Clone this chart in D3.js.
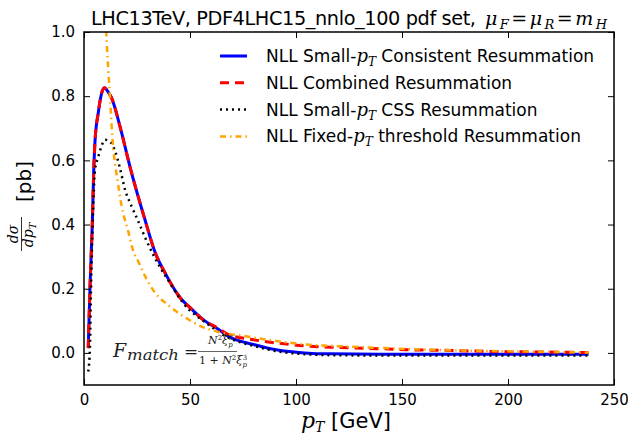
<!DOCTYPE html>
<html>
<head>
<meta charset="utf-8">
<script src="https://cdn.jsdelivr.net/npm/d3@7"></script>
<style>
  body { margin: 0; background: #fff; }
  svg { display: block; }
</style>
</head>
<body>
<svg width="628" height="438"></svg>
<script>
// values
const consistentPt = [2, 2.8, 3.9, 4.6, 5.2, 6.7, 8.3, 9.6, 11.5, 13, 17, 21.7, 28.8, 33.5, 39, 45, 51, 56.5, 63, 68, 80, 92, 104, 116, 140, 180, 238];
const consistentXs = [0.015, 0.2, 0.4, 0.57, 0.66, 0.747, 0.809, 0.826, 0.812, 0.795, 0.705, 0.58, 0.414, 0.314, 0.24, 0.175, 0.135, 0.102, 0.075, 0.052, 0.026, 0.008, 0.0, -0.003, -0.004, -0.004, -0.004];

const combinedPt = [2, 2.8, 3.9, 4.6, 5.2, 6.7, 8.3, 9.6, 11.5, 13, 17, 21.7, 28.8, 33.5, 39, 45, 51, 56.5, 63, 68, 80, 92, 104, 116, 128, 140, 152, 170, 196, 215, 238];
const combinedXs = [0.015, 0.2, 0.4, 0.57, 0.66, 0.747, 0.809, 0.826, 0.812, 0.795, 0.705, 0.58, 0.414, 0.314, 0.24, 0.175, 0.135, 0.102, 0.078, 0.058, 0.041, 0.03, 0.022, 0.018, 0.015, 0.013, 0.010, 0.008, 0.004, 0.003, 0.001];

const cssPt = [2, 2.8, 3.3, 4.1, 5.2, 6.7, 8.3, 9.9, 12.7, 14.6, 17, 19.3, 22.5, 25.6, 28.8, 32.7, 40.6, 46.8, 57.9, 68, 80, 92, 104, 116, 140, 180, 238];
const cssXs = [-0.058, 0.015, 0.2, 0.4, 0.57, 0.61, 0.645, 0.664, 0.655, 0.63, 0.575, 0.51, 0.456, 0.41, 0.36, 0.305, 0.217, 0.155, 0.092, 0.048, 0.022, 0.004, -0.004, -0.007, -0.008, -0.008, -0.008];

const thresholdPt = [9.8, 10.5, 11.5, 12.6, 13.2, 14.6, 15.4, 17.8, 20.9, 23.3, 25.6, 28, 32.7, 40.6, 48.4, 55.5, 62, 77, 93, 105, 120, 141, 180, 210, 238];
const thresholdXs = [1.15, 1.0, 0.88, 0.757, 0.69, 0.59, 0.555, 0.456, 0.378, 0.316, 0.285, 0.25, 0.195, 0.144, 0.108, 0.082, 0.068, 0.051, 0.035, 0.026, 0.021, 0.015, 0.007, 0.004, 0.001];

const xTicks = [0, 50, 100, 150, 200, 250];
const yTicks = [0.0, 0.2, 0.4, 0.6, 0.8, 1.0];

const series = [
  { name: 'Small-', tail: ' Consistent Resummation', pt: consistentPt, xs: consistentXs, color: '#0000ff', width: 3, dash: null },
  { name: 'Combined Resummation', tail: null, pt: combinedPt, xs: combinedXs, color: '#ff0000', width: 3, dash: '9,6' },
  { name: 'Small-', tail: ' CSS Resummation', pt: cssPt, xs: cssXs, color: '#000000', width: 2.5, dash: '2,4' },
  { name: 'Fixed-', tail: ' threshold Resummation', pt: thresholdPt, xs: thresholdXs, color: '#ffa500', width: 2.5, dash: '6,4,1.5,4' },
];

const margin = { top: 32, right: 14, bottom: 53, left: 84 };
const width = 628, height = 438;
const svg = d3.select('svg');
const sans = 'DejaVu Sans, sans-serif';
const serif = 'DejaVu Serif, serif';

const x = d3.scaleLinear([0, 250], [margin.left, width - margin.right]);
const y = d3.scaleLinear([-0.1, 1.0], [height - margin.bottom, margin.top]);

svg.append('clipPath').attr('id', 'plot-clip')
  .append('rect')
    .attr('x', x(0)).attr('y', y(1.0))
    .attr('width', x(250) - x(0)).attr('height', y(-0.1) - y(1.0));

const line = d3.line()
  .x((d) => x(d[0]))
  .y((d) => y(d[1]))
  .curve(d3.curveMonotoneX);

const plot = svg.append('g').attr('clip-path', 'url(#plot-clip)');
series.forEach((s) => {
  plot.append('path')
    .datum(s.pt.map((p, i) => [p, s.xs[i]]))
    .attr('d', line)
    .attr('fill', 'none')
    .attr('stroke', s.color)
    .attr('stroke-width', s.width)
    .attr('stroke-dasharray', s.dash);
});

// axes, ticks pointing inward on all four sides
const tickStyle = (g) => {
  g.select('.domain').remove();
  g.selectAll('.tick line').attr('stroke', '#000').attr('stroke-width', 1);
  g.selectAll('.tick text')
    .style('font-family', sans)
    .style('font-size', '15px')
    .attr('fill', '#000');
};

svg.append('g')
  .attr('transform', `translate(0, ${y(-0.1)})`)
  .call(d3.axisBottom(x).tickValues(xTicks).tickSizeInner(-6).tickPadding(9).tickFormat(d3.format('d')))
  .call(tickStyle);
svg.append('g')
  .attr('transform', `translate(0, ${y(1.0)})`)
  .call(d3.axisTop(x).tickValues(xTicks).tickSizeInner(-6).tickFormat(''))
  .call(tickStyle);
svg.append('g')
  .attr('transform', `translate(${x(0)}, 0)`)
  .call(d3.axisLeft(y).tickValues(yTicks).tickSizeInner(-6).tickPadding(9).tickFormat(d3.format('.1f')))
  .call(tickStyle);
svg.append('g')
  .attr('transform', `translate(${x(250)}, 0)`)
  .call(d3.axisRight(y).tickValues(yTicks).tickSizeInner(-6).tickFormat(''))
  .call(tickStyle);

svg.append('rect')
  .attr('x', x(0)).attr('y', y(1.0))
  .attr('width', x(250) - x(0)).attr('height', y(-0.1) - y(1.0))
  .attr('fill', 'none').attr('stroke', '#000').attr('stroke-width', 1.5);

// legend
const legend = svg.append('g').attr('transform', 'translate(220, 56)');
series.forEach((s, i) => {
  const row = legend.append('g').attr('transform', `translate(0, ${i * 26.8})`);
  row.append('line')
    .attr('x1', 0).attr('x2', 27)
    .attr('stroke', s.color).attr('stroke-width', s.width)
    .attr('stroke-dasharray', s.dash);
  const t = row.append('text')
    .attr('x', 46).attr('y', 6)
    .style('font-family', sans).style('font-size', '17px');
  t.append('tspan').text('NLL ' + s.name);
  if (s.tail) {
    t.append('tspan').style('font-family', serif).style('font-style', 'italic').style('font-size', '18px').text('p');
    t.append('tspan').attr('dy', 4).style('font-family', serif).style('font-style', 'italic').style('font-size', '12px').text('T');
    t.append('tspan').attr('dy', -4).text(s.tail);
  }
});

// title
svg.append('text')
  .attr('x', 91).attr('y', 25)
  .attr('textLength', 385).attr('lengthAdjust', 'spacing')
  .style('font-family', sans).style('font-size', '19.3px')
  .text('LHC13TeV, PDF4LHC15_nnlo_100 pdf set,');
const title = svg.append('text')
  .attr('x', 485).attr('y', 25)
  .attr('textLength', 122).attr('lengthAdjust', 'spacing')
  .style('font-family', serif).style('font-size', '19px');
const mathPart = (base, sub, after) => {
  title.append('tspan').style('font-style', 'italic').text(base);
  title.append('tspan').attr('dy', 4).style('font-style', 'italic').style('font-size', '13px').text(sub);
  title.append('tspan').attr('dy', -4).text(after);
};
mathPart('μ', 'F', '=');
mathPart('μ', 'R', '=');
mathPart('m', 'H', '');

// x label
const xl = svg.append('text')
  .attr('x', 301).attr('y', 428)
  .style('font-size', '21px');
xl.append('tspan').style('font-family', serif).style('font-style', 'italic').style('font-size', '22px').text('p');
xl.append('tspan').attr('dy', 4).style('font-family', serif).style('font-style', 'italic').style('font-size', '14px').text('T');
xl.append('tspan').attr('dy', -4).style('font-family', sans).text(' [GeV]');

// y label
const yl = svg.append('g').attr('transform', 'translate(31, 208) rotate(-90)');
yl.append('text').attr('x', 6).attr('y', 0)
  .style('font-family', sans).style('font-size', '20px').text('[pb]');
yl.append('text').attr('x', -26).attr('y', -13).attr('text-anchor', 'middle')
  .style('font-family', serif).style('font-style', 'italic').style('font-size', '14px').text('dσ');
yl.append('line').attr('x1', -43).attr('x2', -9).attr('y1', -9.5).attr('y2', -9.5)
  .attr('stroke', '#000').attr('stroke-width', 0.8);
const den = yl.append('text').attr('x', -27).attr('y', 2).attr('text-anchor', 'middle')
  .style('font-family', serif).style('font-style', 'italic').style('font-size', '14px');
den.append('tspan').text('dp');
den.append('tspan').attr('dy', 3).style('font-size', '10px').text('T');

// annotation F_match
const ann = svg.append('g').style('font-family', serif).attr('fill', '#222');
ann.append('text').attr('x', 113).attr('y', 357).style('font-size', '19px').style('font-style', 'italic').text('F');
ann.append('text').attr('x', 127).attr('y', 360)
  .attr('textLength', 52).attr('lengthAdjust', 'spacingAndGlyphs')
  .style('font-size', '14px').style('font-style', 'italic').text('match');
ann.append('text').attr('x', 184).attr('y', 357).style('font-size', '17px').text('=');
ann.append('line').attr('x1', 198).attr('x2', 237).attr('y1', 351.5).attr('y2', 351.5)
  .attr('stroke', '#222').attr('stroke-width', 0.7);
const frac = (x0, base, withOne) => {
  const t = ann.append('text').attr('x', x0).attr('y', base).style('font-size', '11px');
  if (withOne) t.append('tspan').text('1 + ');
  t.append('tspan').style('font-style', 'italic').text('N');
  t.append('tspan').attr('dy', -4).style('font-size', '7px').text('2');
  t.append('tspan').attr('dy', 4).style('font-style', 'italic').text('ξ');
  t.append('tspan').attr('dy', 3).style('font-size', '7px').style('font-style', 'italic').text('p');
  t.append('tspan').attr('dx', -4).attr('dy', -7).style('font-size', '7px').text('3');
};
frac(208, 344, false);
frac(199, 364, true);
</script>
</body>
</html>
